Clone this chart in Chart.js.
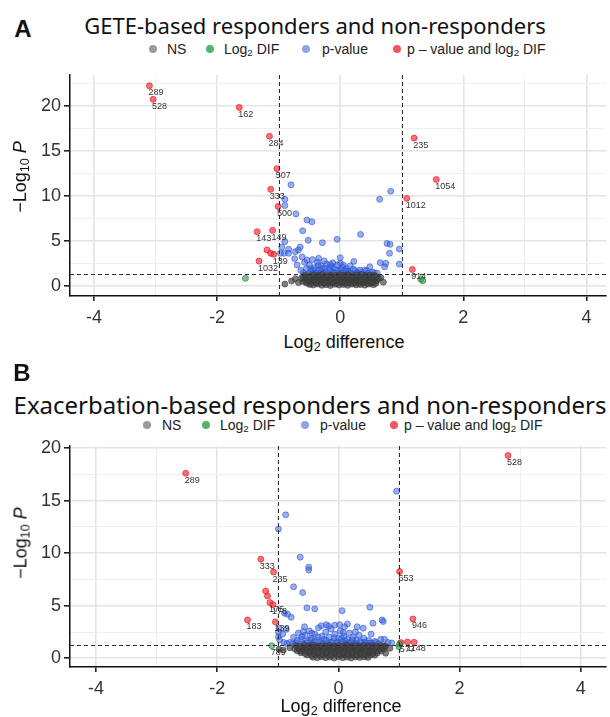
<!DOCTYPE html>
<html>
<head>
<meta charset="utf-8">
<script src="https://cdn.jsdelivr.net/npm/chart.js@4"></script>
<style>
  body { margin: 0; background: #fff; width: 610px; height: 717px; position: relative; overflow: hidden;
         font-family: "Liberation Sans", Arial, sans-serif; }
  .abs { position: absolute; white-space: nowrap; }
  .tag { font-weight: bold; font-size: 24px; color: #111; transform: translate(-50%, -50%); }
  .ttl { font-family: "Noto Sans", "Open Sans", sans-serif; font-size: 22px; color: #111; transform: translate(-50%, -50%); }
  .leg { font-size: 14px; color: #222; transform: translateY(-50%); }
  .dot { position: absolute; width: 8px; height: 8px; border-radius: 50%; transform: translate(-50%, -50%); }
  .ytitle { font-size: 18px; color: #111; transform: translate(-50%, -50%) rotate(-90deg); }
  .xtitle { font-size: 18px; color: #111; transform: translate(-50%, -50%); }
  canvas { position: absolute; left: 0; }
  sub { font-size: 70%; vertical-align: -0.25em; line-height: 0; }
</style>
</head>
<body>
<div class="abs tag" style="left:23px;top:29px">A</div>
<div class="abs ttl" style="left:315px;top:25px">GETE-based responders and non-responders</div>
<span class="dot" style="left:153px;top:49px;background:#9a9a9a"></span><div class="abs leg" style="left:167px;top:49px">NS</div>
<span class="dot" style="left:210px;top:49px;background:#52b56c"></span><div class="abs leg" style="left:224px;top:49px">Log<sub>2</sub> DIF</div>
<span class="dot" style="left:306px;top:49px;background:#8fa6e6"></span><div class="abs leg" style="left:322px;top:49px">p-value</div>
<span class="dot" style="left:397px;top:49px;background:#f25560"></span><div class="abs leg" style="left:407px;top:49px">p – value and log<sub>2</sub> DIF</div>
<canvas id="chartA" width="610" height="266" style="top:60px"></canvas>
<div class="abs ytitle" style="left:20px;top:177px">−Log<sub>10</sub> <i>P</i></div>
<div class="abs xtitle" style="left:344px;top:342px">Log<sub>2</sub> difference</div>

<div class="abs tag" style="left:22px;top:373px">B</div>
<div class="abs ttl" style="left:310px;top:404px;font-size:24px">Exacerbation-based responders and non-responders</div>
<span class="dot" style="left:147px;top:425px;background:#9a9a9a"></span><div class="abs leg" style="left:162px;top:425px">NS</div>
<span class="dot" style="left:206px;top:425px;background:#52b56c"></span><div class="abs leg" style="left:220px;top:425px">Log<sub>2</sub> DIF</div>
<span class="dot" style="left:305px;top:425px;background:#8fa6e6"></span><div class="abs leg" style="left:320px;top:425px">p-value</div>
<span class="dot" style="left:394px;top:425px;background:#f25560"></span><div class="abs leg" style="left:404px;top:425px">p – value and log<sub>2</sub> DIF</div>
<canvas id="chartB" width="610" height="266" style="top:431px"></canvas>
<div class="abs ytitle" style="left:21px;top:543px">−Log<sub>10</sub> <i>P</i></div>
<div class="abs xtitle" style="left:341px;top:706px">Log<sub>2</sub> difference</div>

<script>
// thresholds
const LOG2_CUT = 1;
const P_CUT = 1.3; // -log10(0.05)

const X_TICKS = [-4, -3, -2, -1, 0, 1, 2, 3, 4];
const X_LABELS = [-4, -2, 0, 2, 4];
const Y_TICKS_A = [0, 2.5, 5, 7.5, 10, 12.5, 15, 17.5, 20, 22.5];
const Y_TICKS_B = [0, 2.5, 5, 7.5, 10, 12.5, 15, 17.5, 20];
const Y_LABELS = [0, 5, 10, 15, 20];

// ---- panel A : GETE-based ----  [log2 difference, -log10 p, label]
const A_NS = [
  [-0.90, 0.19], [-0.79, 0.52], [-0.73, 0.78], [-0.68, 0.35], [0.66, 0.90], [0.70, 0.40],
  [-0.50, 0.15], [-0.44, 0.08], [-0.37, 0.18], [-0.30, 0.05], [-0.23, 0.12], [-0.16, 0.02], [-0.09, 0.16], [-0.02, 0.07],
  [0.05, 0.14], [0.12, 0.04], [0.19, 0.17], [0.26, 0.09], [0.33, 0.13], [0.40, 0.06], [0.47, 0.18], [0.54, 0.11],
  [-0.55, 0.30], [-0.47, 0.26], [-0.40, 0.33], [-0.33, 0.28], [-0.26, 0.31], [-0.19, 0.25], [-0.12, 0.34], [-0.05, 0.27],
  [0.02, 0.32], [0.09, 0.26], [0.16, 0.33], [0.23, 0.29], [0.30, 0.25], [0.37, 0.32], [0.44, 0.28], [0.51, 0.31], [0.58, 0.27],
  [-0.61, 0.48], [-0.54, 0.42], [-0.47, 0.55], [-0.40, 0.46], [-0.33, 0.52], [-0.26, 0.40], [-0.19, 0.50], [-0.12, 0.44],
  [-0.05, 0.56], [0.02, 0.43], [0.09, 0.51], [0.16, 0.47], [0.23, 0.41], [0.30, 0.54], [0.37, 0.45], [0.44, 0.50],
  [0.51, 0.43], [0.58, 0.52],
  [-0.58, 0.66], [-0.51, 0.62], [-0.44, 0.70], [-0.37, 0.64], [-0.30, 0.68], [-0.23, 0.61], [-0.16, 0.69], [-0.09, 0.63],
  [-0.02, 0.67], [0.05, 0.62], [0.12, 0.70], [0.19, 0.65], [0.26, 0.68], [0.33, 0.62], [0.40, 0.69], [0.47, 0.64],
  [0.54, 0.67], [0.60, 0.63],
  [-0.63, 0.86], [-0.56, 0.80], [-0.49, 0.91], [-0.42, 0.83], [-0.35, 0.88], [-0.28, 0.79], [-0.21, 0.92], [-0.14, 0.84],
  [-0.07, 0.87], [0.00, 0.81], [0.07, 0.90], [0.14, 0.82], [0.21, 0.89], [0.28, 0.85], [0.35, 0.80], [0.42, 0.91],
  [0.49, 0.84], [0.56, 0.88], [0.62, 0.82],
  [-0.60, 1.00], [-0.53, 0.97], [-0.46, 1.04], [-0.39, 0.99], [-0.32, 1.02], [-0.25, 0.96], [-0.18, 1.05], [-0.11, 0.98],
  [-0.04, 1.03], [0.03, 0.97], [0.10, 1.04], [0.17, 1.00], [0.24, 0.96], [0.31, 1.03], [0.38, 0.98], [0.45, 1.05],
  [0.52, 0.99], [0.59, 1.02],
  [-0.57, 1.18], [-0.50, 1.12], [-0.43, 1.22], [-0.36, 1.15], [-0.29, 1.24], [-0.22, 1.10], [-0.15, 1.20], [-0.08, 1.14],
  [-0.01, 1.23], [0.06, 1.16], [0.13, 1.21], [0.20, 1.11], [0.27, 1.19], [0.34, 1.25], [0.41, 1.13], [0.48, 1.20], [0.55, 1.16]
];
const A_L2 = [[-1.54, 0.82], [1.31, 0.72], [1.34, 0.55]];
const A_P = [
  [-0.80, 11.2], [-0.90, 9.6], [-0.90, 8.9], [-0.72, 7.97], [-0.54, 7.3], [-0.46, 7.1], [-0.61, 6.1], [-0.52, 5.04],
  [-0.29, 4.78], [-0.05, 5.15], [0.33, 5.7], [-0.90, 4.9], [-0.95, 4.3], [-0.65, 4.3], [-0.97, 3.6], [-0.91, 3.6],
  [-0.84, 3.6], [-0.68, 3.97], [-0.74, 3.0], [-0.62, 3.2], [-0.54, 2.86], [-0.35, 3.04], [0.00, 2.5], [0.22, 2.7],
  [0.48, 2.1], [0.64, 9.6], [0.82, 10.5], [0.76, 4.7], [0.81, 4.6], [0.96, 4.07], [0.80, 3.6], [0.65, 2.56],
  [0.72, 2.1], [0.96, 2.4], [0.32, 1.74], [0.40, 1.74], [0.43, 1.67], [0.55, 1.45], [0.74, 2.49], [-0.84, 4.04],
  [-0.73, 3.78], [-0.60, 1.45], [-0.55, 1.9], [-0.50, 2.3], [-0.47, 1.6], [-0.42, 2.0], [-0.40, 1.4], [-0.37, 2.6],
  [-0.34, 1.75], [-0.31, 2.2], [-0.28, 1.5], [-0.25, 1.95], [-0.22, 2.4], [-0.20, 1.35], [-0.17, 1.7], [-0.14, 2.1],
  [-0.11, 1.5], [-0.08, 1.85], [-0.05, 2.3], [-0.02, 1.4], [0.01, 1.75], [0.04, 2.05], [0.07, 1.45], [0.10, 1.9],
  [0.13, 1.6], [0.16, 2.2], [0.19, 1.4], [0.24, 1.7], [0.28, 1.45], [-0.45, 2.9], [-0.26, 2.75], [-0.12, 2.55],
  [0.00, 3.1], [-0.64, 1.7], [-0.70, 2.3], [0.12, 1.35], [-0.33, 1.38], [0.52, 1.5], [0.60, 1.4], [-0.58, 2.6],
  [-0.52, 1.35], [-0.44, 1.75], [-0.38, 1.45], [-0.30, 1.9], [-0.24, 1.55], [-0.18, 2.0], [-0.10, 1.38], [-0.04, 1.65],
  [0.03, 1.40], [0.09, 1.65], [0.15, 1.45], [0.21, 1.85], [0.26, 1.35], [-0.36, 2.25], [-0.16, 2.35], [0.05, 2.3],
  [-0.48, 1.9], [0.34, 1.5], [0.45, 1.38]
];
const A_SIG = [
  [-3.10, 22.2, '289'], [-3.04, 20.7, '528'], [-1.64, 19.8, '162'], [-1.15, 16.6, '284'], [-1.03, 13.0, '507'],
  [-1.13, 10.7, '333'], [-1.01, 8.8, '500'], [-1.35, 6.0, '143'], [-1.10, 6.15, '149'], [-1.19, 3.97], [-1.13, 3.6],
  [-1.08, 3.5, '139'], [-1.32, 2.74, '1032'], [1.20, 16.4, '235'], [1.56, 11.8, '1054'], [1.08, 9.7, '1012'],
  [1.17, 1.8, '914']
];

// ---- panel B : exacerbation-based ----
const B_NS = [
  [-0.98, 0.86], [-0.91, 0.79], [0.75, 1.17], [0.78, 0.48], [-0.80, 1.00], [0.85, 0.95],
  [-0.42, 0.10], [-0.35, 0.04], [-0.28, 0.14], [-0.21, 0.06], [-0.14, 0.12], [-0.07, 0.02], [0.00, 0.15], [0.07, 0.05],
  [0.14, 0.11], [0.21, 0.03], [0.28, 0.13], [0.35, 0.07], [0.42, 0.12], [0.49, 0.08],
  [-0.52, 0.32], [-0.45, 0.27], [-0.38, 0.34], [-0.31, 0.29], [-0.24, 0.33], [-0.17, 0.26], [-0.10, 0.31], [-0.03, 0.35],
  [0.04, 0.28], [0.11, 0.33], [0.18, 0.27], [0.25, 0.32], [0.32, 0.29], [0.39, 0.34], [0.46, 0.27], [0.53, 0.31], [0.60, 0.30],
  [-0.62, 0.52], [-0.55, 0.45], [-0.48, 0.56], [-0.41, 0.48], [-0.34, 0.53], [-0.27, 0.44], [-0.20, 0.50], [-0.13, 0.46],
  [-0.06, 0.55], [0.01, 0.43], [0.08, 0.51], [0.15, 0.47], [0.22, 0.54], [0.29, 0.42], [0.36, 0.50], [0.43, 0.46],
  [0.50, 0.53], [0.57, 0.44], [0.64, 0.50],
  [-0.68, 0.70], [-0.61, 0.66], [-0.54, 0.74], [-0.47, 0.68], [-0.40, 0.72], [-0.33, 0.65], [-0.26, 0.73], [-0.19, 0.67],
  [-0.12, 0.71], [-0.05, 0.66], [0.02, 0.74], [0.09, 0.69], [0.16, 0.72], [0.23, 0.65], [0.30, 0.70], [0.37, 0.74],
  [0.44, 0.67], [0.51, 0.71], [0.58, 0.68], [0.65, 0.73], [0.71, 0.69],
  [-0.72, 0.90], [-0.65, 0.84], [-0.58, 0.94], [-0.51, 0.86], [-0.44, 0.92], [-0.37, 0.83], [-0.30, 0.95], [-0.23, 0.88],
  [-0.16, 0.91], [-0.09, 0.85], [-0.02, 0.93], [0.05, 0.87], [0.12, 0.90], [0.19, 0.84], [0.26, 0.94], [0.33, 0.86],
  [0.40, 0.91], [0.47, 0.83], [0.54, 0.89], [0.61, 0.92], [0.68, 0.86], [0.75, 0.88],
  [-0.67, 1.04], [-0.60, 1.08], [-0.53, 1.02], [-0.46, 1.07], [-0.39, 1.03], [-0.32, 1.09], [-0.25, 1.01], [-0.18, 1.06],
  [-0.11, 1.04], [-0.04, 1.08], [0.03, 1.02], [0.10, 1.07], [0.17, 1.03], [0.24, 1.09], [0.31, 1.01], [0.38, 1.06],
  [0.45, 1.04], [0.52, 1.08], [0.59, 1.02], [0.66, 1.06], [0.73, 1.03],
  [-0.70, 1.22], [-0.63, 1.16], [-0.56, 1.26], [-0.49, 1.18], [-0.42, 1.24], [-0.35, 1.14], [-0.28, 1.21], [-0.21, 1.17],
  [-0.14, 1.25], [-0.07, 1.15], [0.00, 1.22], [0.07, 1.18], [0.14, 1.26], [0.21, 1.13], [0.28, 1.20], [0.35, 1.16],
  [0.42, 1.24], [0.49, 1.15], [0.56, 1.21], [0.63, 1.18], [0.70, 1.23], [0.78, 1.14]
];
const B_L2 = [[-1.10, 1.2, '789'], [1.00, 1.1], [1.01, 1.36]];
const B_P = [
  [0.96, 15.9], [-0.87, 13.65], [-0.99, 12.3], [-0.63, 9.62], [-0.49, 8.67], [-0.49, 8.4], [-0.74, 6.8], [-0.59, 6.25],
  [-0.52, 4.8], [-0.39, 4.7], [0.06, 4.53], [0.52, 4.86], [-0.89, 4.29], [-0.84, 4.2], [-0.78, 3.9], [0.57, 3.33],
  [0.72, 3.65], [0.74, 3.5], [0.15, 3.27], [-0.98, 2.86], [-0.86, 2.76], [-0.56, 3.0], [0.31, 3.0], [0.41, 2.86],
  [0.54, 2.3], [0.70, 1.8], [0.76, 1.8], [0.28, 2.5], [-0.99, 2.05], [-0.97, 1.74], [-0.58, 2.53], [-0.99, 2.5],
  [-0.80, 1.5], [-0.74, 2.0], [-0.70, 1.45], [-0.66, 2.4], [-0.62, 1.8], [-0.58, 1.4], [-0.55, 2.2], [-0.51, 1.65],
  [-0.48, 2.6], [-0.45, 1.9], [-0.42, 1.4], [-0.39, 2.3], [-0.36, 1.7], [-0.33, 2.9], [-0.30, 1.5], [-0.27, 2.1],
  [-0.24, 1.8], [-0.21, 2.5], [-0.18, 1.4], [-0.15, 2.0], [-0.12, 2.8], [-0.09, 1.6], [-0.06, 2.3], [-0.03, 1.45],
  [0.00, 1.9], [0.03, 2.6], [0.06, 1.55], [0.09, 2.1], [0.12, 1.4], [0.15, 1.8], [0.18, 2.4], [0.21, 1.5],
  [0.24, 2.0], [0.27, 1.4], [0.30, 1.75], [0.34, 2.2], [0.38, 1.5], [0.42, 1.9], [0.46, 1.4], [0.50, 1.7],
  [0.55, 1.45], [0.60, 1.6], [0.66, 1.4], [0.82, 1.5], [0.88, 1.45], [-0.90, 1.5], [-0.92, 2.3], [-0.28, 3.1],
  [-0.16, 3.05], [0.02, 3.2], [0.10, 3.0], [-0.06, 3.15], [-0.20, 3.2],
  [-0.75, 1.4], [-0.68, 1.7], [-0.60, 2.05], [-0.53, 1.45], [-0.46, 1.75], [-0.40, 1.55], [-0.34, 2.05], [-0.26, 1.45],
  [-0.20, 1.7], [-0.13, 1.5], [-0.07, 1.95], [-0.01, 1.5], [0.05, 1.85], [0.11, 1.65], [0.17, 1.5], [0.23, 1.75],
  [0.29, 1.4], [0.36, 1.6], [0.44, 1.55], [0.52, 1.45], [0.62, 1.5], [-0.85, 1.4], [-0.44, 2.4], [0.08, 2.45]
];
const B_SIG = [
  [-2.52, 17.6, '289'], [2.80, 19.3, '528'], [-1.28, 9.43, '333'], [-1.07, 8.2, '235'], [-1.20, 6.4], [-1.17, 5.93],
  [-1.13, 5.3, '175'], [-1.08, 5.1, '178'], [-1.50, 3.65, '183'], [-1.04, 3.46, '139'], [1.01, 8.25, '653'],
  [1.23, 3.74, '946'], [1.03, 1.49, '577'], [1.14, 1.55, '1148'], [1.25, 1.52]
];

const FONT = '"Liberation Sans", Arial, sans-serif';

const thresholdsAndLabels = {
  id: 'thresholdsAndLabels',
  afterDatasetsDraw(chart) {
    const { ctx, chartArea: a, scales: { x, y } } = chart;
    ctx.save();
    ctx.strokeStyle = '#2b2b2b';
    ctx.lineWidth = 1;
    ctx.setLineDash([4, 3]);
    ctx.beginPath();
    [-LOG2_CUT, LOG2_CUT].forEach((v) => {
      const px = Math.round(x.getPixelForValue(v)) + 0.5;
      ctx.moveTo(px, a.top);
      ctx.lineTo(px, a.bottom);
    });
    const py = Math.round(y.getPixelForValue(P_CUT)) + 0.5;
    ctx.moveTo(a.left, py);
    ctx.lineTo(a.right, py);
    ctx.stroke();
    ctx.setLineDash([]);

    ctx.font = '9px ' + FONT;
    ctx.fillStyle = '#333';
    ctx.textAlign = 'left';
    ctx.textBaseline = 'middle';
    chart.data.datasets.forEach((ds) => {
      ds.data.forEach((p) => {
        if (p.label) ctx.fillText(p.label, x.getPixelForValue(p.x) - 1, y.getPixelForValue(p.y) + 7);
      });
    });
    ctx.restore();
  },
};

function toPoints(list) {
  return list.map(([x, y, label]) => ({ x, y, label }));
}

function series(list, fill, stroke) {
  return {
    data: toPoints(list),
    backgroundColor: fill,
    borderColor: stroke,
    borderWidth: 0.8,
    pointRadius: 3,
    pointHoverRadius: 3,
  };
}

function buildChart(id, ns, l2, pv, sig, yTicks, range) {
  return new Chart(document.getElementById(id), {
    type: 'scatter',
    data: {
      datasets: [
        series(ns, 'rgba(70,70,70,0.68)', 'rgba(50,50,50,0.7)'),
        series(l2, 'rgba(40,160,70,0.6)', 'rgba(30,120,55,0.8)'),
        series(pv, 'rgba(60,100,225,0.52)', 'rgba(40,80,210,0.72)'),
        series(sig, 'rgba(255,35,45,0.65)', 'rgba(225,20,30,0.8)'),
      ],
    },
    options: {
      responsive: false,
      animation: false,
      events: [],
      layout: { padding: { top: 15, right: 0, left: 0, bottom: 0 } },
      plugins: { legend: { display: false }, tooltip: { enabled: false } },
      scales: {
        x: {
          type: 'linear',
          min: range.xMin,
          max: range.xMax,
          afterBuildTicks: (s) => { s.ticks = X_TICKS.map((v) => ({ value: v })); },
          afterFit: (s) => { s.height = 30; },
          ticks: {
            autoSkip: false,
            maxRotation: 0,
            padding: 6,
            color: '#333',
            font: { size: 18, family: FONT },
            callback: (v) => (X_LABELS.includes(v) ? String(v) : ''),
          },
          grid: {
            color: (c) => (X_LABELS.includes(c.tick.value) ? '#e4e4e4' : '#efefef'),
            lineWidth: (c) => (X_LABELS.includes(c.tick.value) ? 1.6 : 1),
            tickColor: (c) => (X_LABELS.includes(c.tick.value) ? '#222' : 'rgba(0,0,0,0)'),
            tickLength: 5,
          },
          border: { color: '#111', width: 1.5 },
        },
        y: {
          type: 'linear',
          min: range.yMin,
          max: range.yMax,
          afterBuildTicks: (s) => { s.ticks = yTicks.map((v) => ({ value: v })); },
          afterFit: (s) => { s.width = 70; },
          ticks: {
            autoSkip: false,
            padding: 3,
            color: '#333',
            font: { size: 18, family: FONT },
            callback: (v) => (Y_LABELS.includes(v) ? String(v) : ''),
          },
          grid: {
            color: (c) => (Y_LABELS.includes(c.tick.value) ? '#e4e4e4' : '#efefef'),
            lineWidth: (c) => (Y_LABELS.includes(c.tick.value) ? 1.6 : 1),
            tickColor: (c) => (Y_LABELS.includes(c.tick.value) ? '#222' : 'rgba(0,0,0,0)'),
            tickLength: 6,
          },
          border: { color: '#111', width: 1.5 },
        },
      },
    },
    plugins: [thresholdsAndLabels],
  });
}

buildChart('chartA', A_NS, A_L2, A_P, A_SIG, Y_TICKS_A, { xMin: -4.39, xMax: 4.32, yMin: -1.14, yMax: 23.4 });
buildChart('chartB', B_NS, B_L2, B_P, B_SIG, Y_TICKS_B, { xMin: -4.43, xMax: 4.42, yMin: -0.83, yMax: 20.2 });
</script>
</body>
</html>
